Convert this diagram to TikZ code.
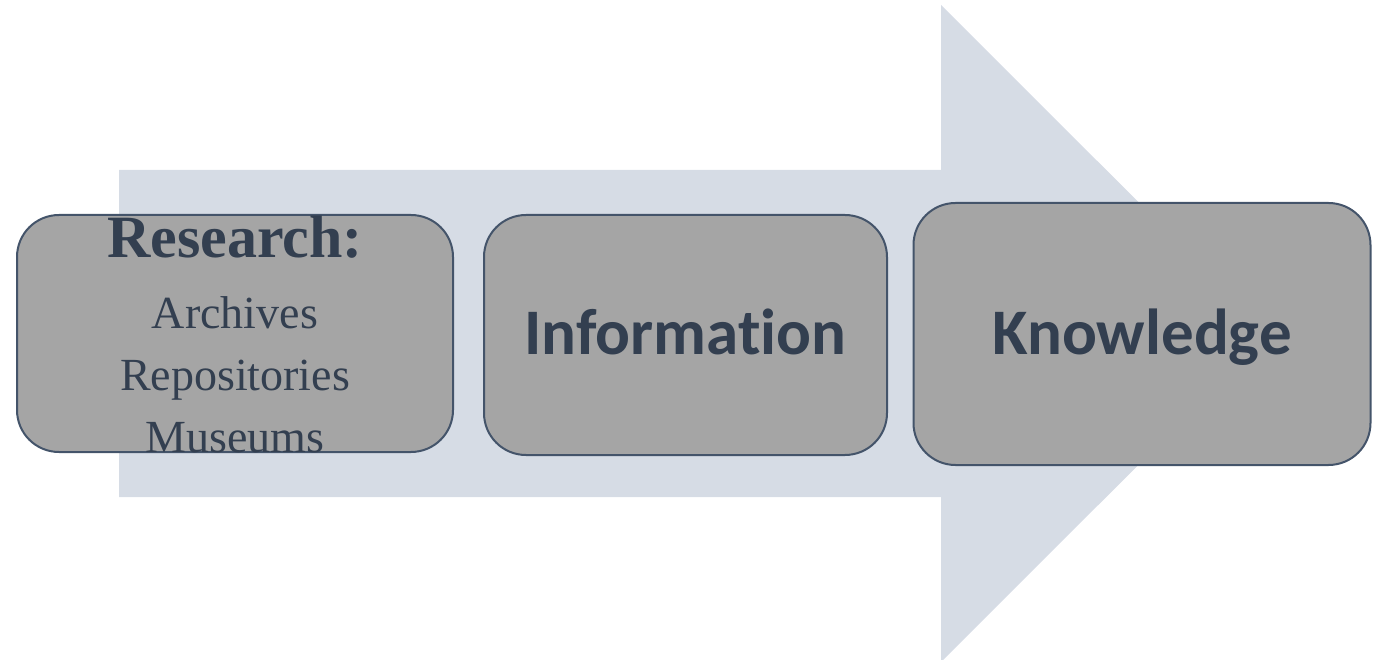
\documentclass[tikz,border=0pt]{standalone}
\usepackage{fontspec}
\setmainfont{Liberation Serif}
\newfontfamily\boxfont[Ligatures=NoCommon]{Carlito}
\usepackage{tikz}

\definecolor{arrowfill}{HTML}{D6DCE5}
\definecolor{boxfill}{HTML}{A5A5A5}
\definecolor{boxline}{HTML}{44546A}
\definecolor{boxtext}{HTML}{333F50}

\tikzset{
  stagebox/.style={draw=boxline, fill=boxfill, line width=2pt, rounded corners=42pt, inner sep=0pt},
  stagetext/.style={text=boxtext, inner sep=0pt, anchor=base, font=\boxfont\bfseries\fontsize{65}{70}\selectfont},
  listtext/.style={text=boxtext, inner sep=0pt, anchor=base, font=\fontsize{46}{50}\selectfont}
}

\begin{document}
\begin{tikzpicture}[x=1pt, y=-1pt]
    \useasboundingbox (0,0) rectangle (1385,660);

    % Draw the big arrow behind
    \fill[arrowfill] (119,170) -- (941,170) -- (941,5) -- (1270,333.5)
        -- (941,662) -- (941,497) -- (119,497) -- cycle;

    % Draw the three stages
    \node[stagebox, minimum width=436pt, minimum height=237pt] (research) at (235,333.5) {};
    \node[stagebox, minimum width=403pt, minimum height=240pt] (information) at (685.5,335) {};
    \node[stagebox, minimum width=457pt, minimum height=262pt] (knowledge) at (1142,334) {};

    % Research text
    \node[listtext, font=\bfseries\fontsize{60}{64}\selectfont] (restitle) at (235,258) {Research:};
    \node[listtext] (archives) at (235,329) {Archives};
    \node[listtext] (repos) at (235,391) {Repositories};
    \node[listtext] (museums) at (235,453) {Museums};

    % Stage labels
    \node[stagetext] (infotext) at (685.5,355) {Information};
    \node[stagetext] (knowtext) at (1142,355) {Knowledge};
\end{tikzpicture}
\end{document}
